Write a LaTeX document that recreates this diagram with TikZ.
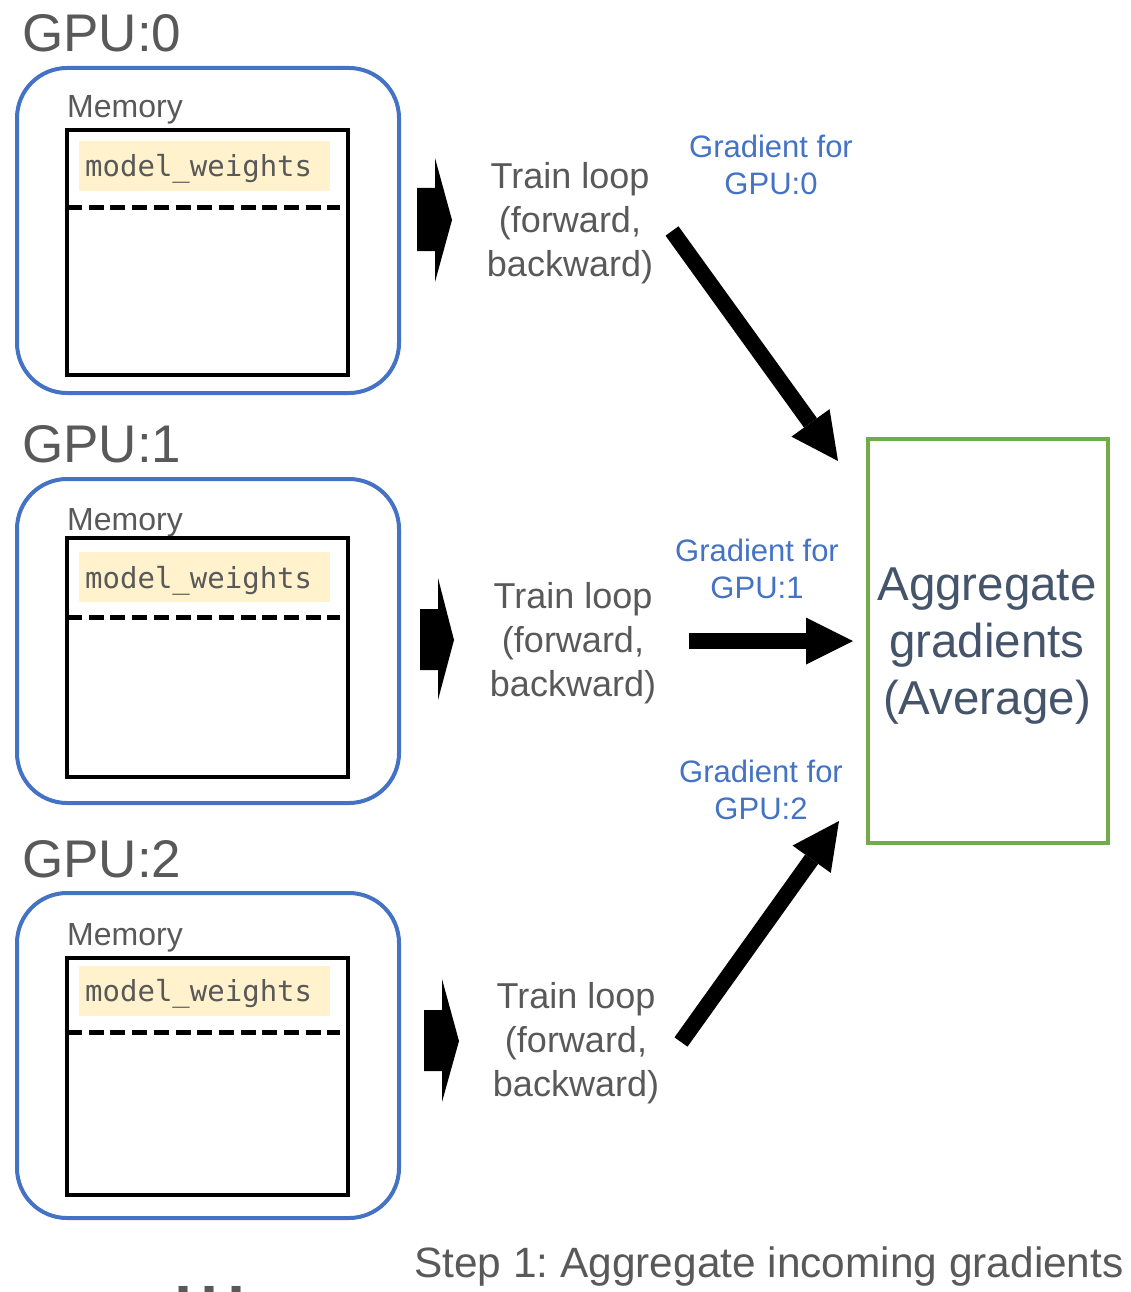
\documentclass[tikz,border=0pt]{standalone}
\usepackage{fontspec}
\setmainfont{Liberation Sans}
\setmonofont{DejaVu Sans Mono}
\usetikzlibrary{arrows.meta}
\definecolor{gpublue}{HTML}{4472C4}
\definecolor{aggreen}{HTML}{70AD47}
\definecolor{txtgray}{HTML}{595959}
\definecolor{wyellow}{HTML}{FFF2CC}
\definecolor{aggtext}{HTML}{44546A}

\begin{document}
\begin{tikzpicture}[x=1pt, y=-1pt,
        gpubox/.style={draw=gpublue, line width=4pt, rounded corners=50pt},
        membox/.style={draw=black, line width=4.5pt},
        splitline/.style={line width=5pt, dash pattern=on 15pt off 6.7pt},
        wfill/.style={fill=wyellow, anchor=west, inner xsep=6pt, inner ysep=0pt, text width=239pt, minimum height=50pt, align=left, text height=22pt, text depth=0pt, text=txtgray, font=\fontsize{29}{34}\selectfont\ttfamily},
        gpulabel/.style={anchor=base west, inner sep=0pt, text=txtgray, font=\fontsize{53}{60}\selectfont},
        memlabel/.style={anchor=base west, inner sep=0pt, text=txtgray, font=\fontsize{32}{38}\selectfont},
        trainlabel/.style={align=center, inner sep=0pt, text=txtgray, font=\fontsize{36}{44}\selectfont},
        gradlabel/.style={align=center, inner sep=0pt, text=gpublue, font=\fontsize{31}{37}\selectfont},
        bigarrow/.style={line width=16pt, -{Triangle[width=47pt, length=47pt, line width=0pt]}}]
    \useasboundingbox (0, 0) rectangle (1130, 1292);

    % GPU:0
    \node (gpu0) [gpulabel] at (22, 52) {GPU:0};
    \draw [gpubox] (17, 68) rectangle (399, 393);
    \node (mem0) [memlabel] at (67, 118) {Memory};
    \node (w0) [wfill] at (79, 166) {model\_weights};
    \draw [membox] (67, 130) rectangle (348, 375);
    \draw [splitline] (67, 207) -- (340, 207);
    \fill (417, 188) -- (435, 188) -- (435, 158) -- (452, 220) -- (435, 282) -- (435, 251) -- (417, 251) -- cycle;
    \node (train0) [trainlabel] at (570, 223) {Train loop\\(forward,\\backward)};

    % GPU:1
    \node (gpu1) [gpulabel] at (22, 462) {GPU:1};
    \draw [gpubox] (17, 479) rectangle (399, 803);
    \node (mem1) [memlabel] at (67, 530) {Memory};
    \node (w1) [wfill] at (79, 577) {model\_weights};
    \draw [membox] (67, 538) rectangle (348, 777);
    \draw [splitline] (67, 617) -- (340, 617);
    \fill (420, 609) -- (438, 609) -- (438, 578) -- (454, 640) -- (438, 700) -- (438, 670) -- (420, 670) -- cycle;
    \node (train1) [trainlabel] at (573, 643) {Train loop\\(forward,\\backward)};

    % GPU:2
    \node (gpu2) [gpulabel] at (22, 877) {GPU:2};
    \draw [gpubox] (17, 893) rectangle (399, 1218);
    \node (mem2) [memlabel] at (67, 945) {Memory};
    \node (w2) [wfill] at (79, 990.5) {model\_weights};
    \draw [membox] (67, 958) rectangle (348, 1195);
    \draw [splitline] (67, 1032) -- (340, 1032);
    \fill (424, 1010) -- (442, 1010) -- (442, 979) -- (459, 1041) -- (442, 1102) -- (442, 1071) -- (424, 1071) -- cycle;
    \node (train2) [trainlabel] at (576, 1043) {Train loop\\(forward,\\backward)};

    \node (more) [anchor=base, inner sep=0pt, text=txtgray, font=\fontsize{94}{100}\selectfont] at (210, 1296) {...};

    % aggregation
    \node (agg) [draw=aggreen, line width=4pt, minimum width=240pt, minimum height=404pt, inner sep=0pt] at (987.5, 641) {};
    \node (aggtxt) [align=center, inner sep=0pt, text=aggtext, font=\fontsize{47.5}{57}\selectfont] at (987, 646) {Aggregate\\gradients\\(Average)};

    \node (grad0) [gradlabel] at (771, 165) {Gradient for\\GPU:0};
    \node (grad1) [gradlabel] at (757, 569) {Gradient for\\GPU:1};
    \node (grad2) [gradlabel] at (761, 790) {Gradient for\\GPU:2};

    \coordinate (g0from) at (672, 231);
    \coordinate (g0to) at (838, 461);
    \coordinate (g1from) at (689, 641);
    \coordinate (g1to) at (853, 641);
    \coordinate (g2from) at (681, 1042);
    \coordinate (g2to) at (839, 821);
    \draw [bigarrow] (g0from) -- (g0to);
    \draw [bigarrow] (g1from) -- (g1to);
    \draw [bigarrow] (g2from) -- (g2to);

    \node (step) [anchor=base west, inner sep=0pt, text=txtgray, font=\fontsize{42.4}{50}\selectfont\frenchspacing] at (414, 1277) {Step 1: Aggregate incoming gradients};
\end{tikzpicture}
\end{document}
